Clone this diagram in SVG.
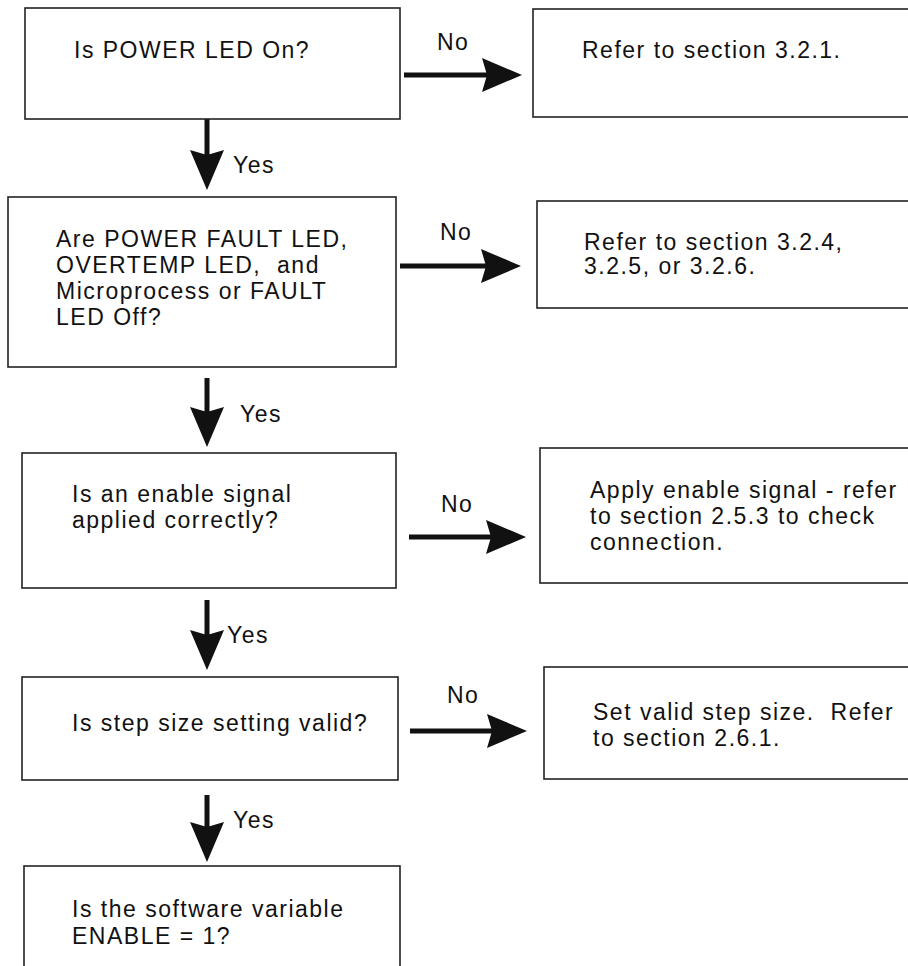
<svg xmlns="http://www.w3.org/2000/svg" width="908" height="966" viewBox="0 0 908 966">
<style>
.box{fill:#fff;stroke:#222;stroke-width:1.6}
.t{font-family:"Liberation Sans",Arial,Helvetica,sans-serif;font-size:23px;letter-spacing:1.5px;fill:#111;white-space:pre}
.c{stroke:#111;stroke-width:5;fill:none}
</style>
<defs>
<marker id="ah" markerUnits="userSpaceOnUse" viewBox="0 0 40 34" markerWidth="40" markerHeight="34" refX="5" refY="17" orient="auto">
<path d="M0,0 L40,17 L0,34 L5,17 Z" fill="#111"/>
</marker>
</defs>
<rect width="908" height="966" fill="#fff"/>
<g id="connectors">
<line class="c" x1="404" y1="75" x2="487" y2="75" marker-end="url(#ah)"/>
<line class="c" x1="207" y1="119" x2="207" y2="155" marker-end="url(#ah)"/>
<line class="c" x1="400" y1="266" x2="486" y2="266" marker-end="url(#ah)"/>
<line class="c" x1="207" y1="378" x2="207" y2="412" marker-end="url(#ah)"/>
<line class="c" x1="409" y1="537" x2="491" y2="537" marker-end="url(#ah)"/>
<line class="c" x1="207" y1="600" x2="207" y2="635" marker-end="url(#ah)"/>
<line class="c" x1="410" y1="731" x2="492" y2="731" marker-end="url(#ah)"/>
<line class="c" x1="207" y1="795" x2="207" y2="827" marker-end="url(#ah)"/>
<text class="t" x="437" y="50">No</text>
<text class="t" x="233" y="173">Yes</text>
<text class="t" x="440" y="240">No</text>
<text class="t" x="240" y="422">Yes</text>
<text class="t" x="441" y="512">No</text>
<text class="t" x="227" y="643">Yes</text>
<text class="t" x="447" y="703">No</text>
<text class="t" x="233" y="828">Yes</text>
</g>
<g id="q1">
<rect class="box" x="25" y="8" width="375" height="111"/>
<text class="t" x="74" y="58">Is POWER LED On?</text>
</g>
<g id="a1">
<rect class="box" x="533" y="9" width="400" height="108"/>
<text class="t" x="582" y="58">Refer to section 3.2.1.</text>
</g>
<g id="q2">
<rect class="box" x="8" y="197" width="388" height="170"/>
<text class="t" xml:space="preserve"><tspan x="56" y="247">Are POWER FAULT LED,</tspan><tspan x="56" y="273">OVERTEMP LED,  and</tspan><tspan x="56" y="299">Microprocess or FAULT</tspan><tspan x="56" y="325">LED Off?</tspan></text>
</g>
<g id="a2">
<rect class="box" x="537" y="201" width="400" height="107"/>
<text class="t"><tspan x="584" y="250">Refer to section 3.2.4,</tspan><tspan x="584" y="274">3.2.5, or 3.2.6.</tspan></text>
</g>
<g id="q3">
<rect class="box" x="22" y="453" width="374" height="135"/>
<text class="t"><tspan x="72" y="502">Is an enable signal</tspan><tspan x="72" y="528">applied correctly?</tspan></text>
</g>
<g id="a3">
<rect class="box" x="540" y="448" width="400" height="135"/>
<text class="t"><tspan x="590" y="498">Apply enable signal - refer</tspan><tspan x="590" y="524">to section 2.5.3 to check</tspan><tspan x="590" y="550">connection.</tspan></text>
</g>
<g id="q4">
<rect class="box" x="22" y="677" width="376" height="103"/>
<text class="t" x="72" y="731">Is step size setting valid?</text>
</g>
<g id="a4">
<rect class="box" x="544" y="667" width="400" height="112"/>
<text class="t" xml:space="preserve"><tspan x="593" y="720">Set valid step size.  Refer</tspan><tspan x="593" y="746">to section 2.6.1.</tspan></text>
</g>
<g id="q5">
<rect class="box" x="24" y="866" width="376" height="140"/>
<text class="t"><tspan x="72" y="917">Is the software variable</tspan><tspan x="72" y="944">ENABLE = 1?</tspan></text>
</g>
</svg>
